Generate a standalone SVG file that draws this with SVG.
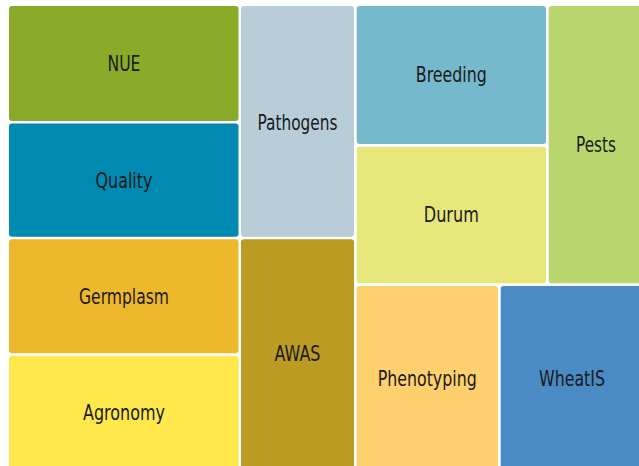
<svg xmlns="http://www.w3.org/2000/svg" width="639" height="466" viewBox="0 0 639 466">
<style>
.c{stroke:none}
.t{font-family:"DejaVu Sans",sans-serif;font-size:21px;fill:#1a1a1a;text-anchor:middle;dominant-baseline:central}
</style>
<rect width="639" height="466" fill="#ffffff"/>
<g id="NUE"><rect class="c" x="9" y="6" width="229.5" height="115" rx="3" fill="#8aab2a"/><text class="t" x="124" y="63.5" textLength="33" lengthAdjust="spacingAndGlyphs">NUE</text></g>
<g id="Quality"><rect class="c" x="9" y="123.5" width="229.5" height="113.2" rx="3" fill="#0089b1"/><text class="t" x="124" y="181" textLength="57" lengthAdjust="spacingAndGlyphs">Quality</text></g>
<g id="Germplasm"><rect class="c" x="9" y="239.3" width="229.5" height="114" rx="3" fill="#eeb82c"/><text class="t" x="124" y="297" textLength="90" lengthAdjust="spacingAndGlyphs">Germplasm</text></g>
<g id="Agronomy"><rect class="c" x="9" y="356" width="229.5" height="116" rx="3" fill="#fee84c"/><text class="t" x="124" y="413" textLength="82" lengthAdjust="spacingAndGlyphs">Agronomy</text></g>
<g id="Pathogens"><rect class="c" x="241" y="6" width="113" height="230.7" rx="3" fill="#b8cdd8"/><text class="t" x="297.5" y="123" textLength="80" lengthAdjust="spacingAndGlyphs">Pathogens</text></g>
<g id="AWAS"><rect class="c" x="241" y="239.3" width="113" height="232" rx="3" fill="#bc9b23"/><text class="t" x="297.5" y="354" textLength="46" lengthAdjust="spacingAndGlyphs">AWAS</text></g>
<g id="Breeding"><rect class="c" x="356.7" y="6" width="189.3" height="138" rx="3" fill="#76b9cd"/><text class="t" x="451.3" y="75" textLength="71" lengthAdjust="spacingAndGlyphs">Breeding</text></g>
<g id="Durum"><rect class="c" x="356.7" y="146.7" width="189.3" height="136.6" rx="3" fill="#e5e77a"/><text class="t" x="451.3" y="215" textLength="55" lengthAdjust="spacingAndGlyphs">Durum</text></g>
<g id="Pests"><rect class="c" x="548.7" y="6" width="96" height="277.3" rx="3" fill="#b9d66e"/><text class="t" x="596" y="145" textLength="40" lengthAdjust="spacingAndGlyphs">Pests</text></g>
<g id="Phenotyping"><rect class="c" x="356.7" y="286" width="141.3" height="186" rx="3" fill="#fed06e"/><text class="t" x="427.2" y="379" textLength="99" lengthAdjust="spacingAndGlyphs">Phenotyping</text></g>
<g id="WheatIS"><rect class="c" x="500.7" y="286" width="155" height="186" rx="3" fill="#4a8bc6"/><text class="t" x="572" y="379" textLength="66" lengthAdjust="spacingAndGlyphs">WheatIS</text></g>
<g id="connectors"></g>
</svg>
